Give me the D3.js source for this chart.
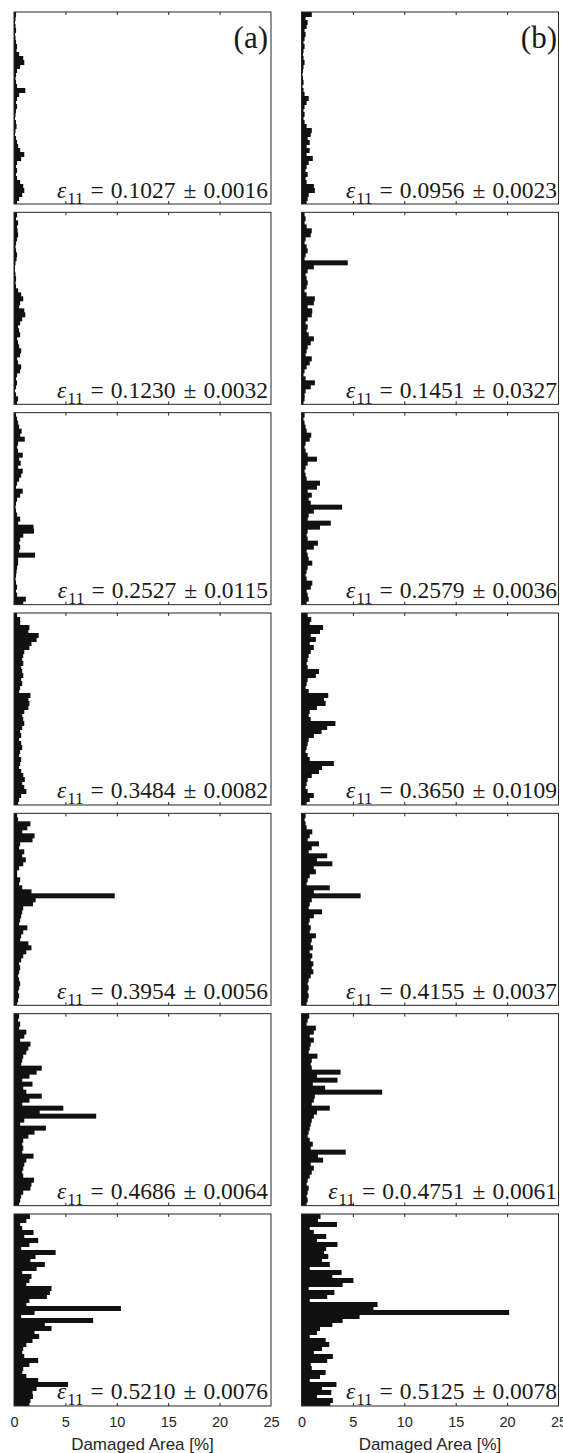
<!DOCTYPE html>
<html>
<head>
<meta charset="utf-8">
<script src="https://cdn.jsdelivr.net/npm/d3@7"></script>
<style>
  body { margin: 0; background: #fff; }
  svg { display: block; }
</style>
</head>
<body>
<div id="container"></div>
<script>
// x ticks (damaged area, %)
const ticks = [0, 5, 10, 15, 20, 25];

// damaged area per slice, top to bottom, column (a)
const a1 = [0.2,0.15,0.1,0.15,0.2,0.1,0.15,0.2,0.3,0.25,
  0.5,0.9,1.0,0.6,0.3,0.2,0.15,0.2,0.3,1.1,
  0.5,0.3,0.2,0.3,0.2,0.15,0.1,0.2,0.25,0.15,
  0.1,0.2,0.3,0.4,0.6,1.0,0.7,0.3,0.2,0.3,
  0.2,0.3,0.6,0.9,1.0,0.8,0.5,0.3];
const a2 = [0.3,0.2,0.4,0.3,0.35,0.4,0.3,0.2,0.15,0.2,
  0.3,0.25,0.15,0.1,0.1,0.15,0.2,0.15,0.2,0.4,
  0.7,0.9,0.6,0.5,1.0,1.1,0.8,0.6,0.4,0.5,
  0.6,0.3,0.4,0.5,0.7,0.6,0.3,0.4,0.7,0.6,
  0.3,0.2,0.3,0.2,0.1,0.2,0.4,0.3];
const a3 = [0.2,0.3,0.4,0.5,0.75,0.6,1.05,0.4,0.3,0.4,
  0.85,0.5,0.65,0.4,0.85,0.7,0.5,0.3,0.2,0.85,
  0.6,0.3,0.2,0.15,0.2,0.3,0.6,0.4,1.9,1.95,
  0.9,0.6,0.5,0.6,0.5,2.05,0.4,0.4,0.3,0.25,
  0.2,0.15,0.2,0.3,0.2,0.3,1.15,0.9];
const a4 = [0.3,0.6,0.6,1.5,1.4,2.4,2.2,1.7,1.5,1.0,
  0.9,0.8,0.9,0.7,0.8,0.9,0.7,0.8,0.6,0.5,
  1.6,1.4,1.5,1.4,1.0,0.8,0.9,1.0,0.8,0.6,
  0.7,0.5,0.7,0.8,0.6,0.5,0.7,0.6,0.5,0.7,
  0.9,1.05,0.8,1.0,1.2,0.7,0.5,0.4];
const a5 = [0.3,0.4,1.6,1.3,0.8,2.0,1.8,0.6,0.5,1.0,
  0.8,1.15,0.9,0.5,0.3,0.3,0.6,0.5,0.8,1.7,
  9.8,2.1,1.85,0.9,0.8,0.7,0.6,0.5,1.3,0.9,
  0.7,0.6,1.4,1.7,1.2,0.9,0.7,0.5,0.6,0.5,
  0.4,0.5,0.6,0.5,0.4,0.5,0.4,0.3];
const a6 = [0.5,0.4,0.6,0.5,1.2,1.0,0.6,1.6,1.4,1.2,
  0.9,0.8,0.7,2.7,2.2,1.5,0.8,1.8,0.9,1.2,
  2.7,1.5,0.8,4.8,2.5,8.0,1.0,0.6,3.1,2.0,
  1.4,0.9,0.8,0.9,0.8,1.9,1.2,1.0,0.9,0.8,
  0.9,1.95,1.7,1.6,0.9,0.7,0.6,0.5];
const a7 = [1.55,1.2,0.6,0.8,1.9,1.0,2.35,1.5,0.7,4.05,
  2.1,1.6,3.0,2.2,0.8,1.7,1.5,1.2,3.65,3.5,
  3.2,1.5,1.2,10.4,2.0,0.7,7.7,3.0,3.65,2.0,
  2.45,1.8,1.2,0.9,0.8,1.0,2.35,1.5,0.9,0.8,
  1.2,2.35,5.25,2.2,1.8,1.85,1.6,1.5];

// column (b)
const b1 = [1.0,0.4,0.6,0.5,0.3,0.4,0.3,0.2,0.3,0.2,
  0.15,0.2,0.3,0.2,0.15,0.1,0.15,0.2,0.1,0.2,
  0.3,0.7,0.5,0.3,0.2,0.3,0.2,0.3,0.5,1.0,
  0.9,0.6,0.8,0.5,0.8,0.5,1.1,0.7,0.5,0.4,
  0.6,0.4,0.5,1.2,1.3,0.7,0.6,0.5];
const b2 = [0.3,0.4,0.3,0.5,1.0,0.9,0.4,0.3,0.5,0.6,
  0.4,0.3,4.5,1.2,0.6,0.4,0.5,0.6,0.5,0.3,
  0.5,1.3,1.2,0.6,1.05,1.0,0.6,0.4,0.6,0.5,
  0.7,1.2,0.9,0.6,0.5,0.4,1.0,0.8,0.5,0.3,
  0.2,0.4,1.3,0.9,0.4,0.3,0.3,0.2];
const b3 = [0.3,0.2,0.3,0.4,0.5,0.95,0.8,0.4,0.3,0.4,
  0.6,1.5,0.6,0.4,0.3,0.4,0.5,1.8,1.5,0.6,
  1.0,0.7,0.9,3.95,1.2,0.7,0.6,2.85,1.8,0.6,
  0.5,0.6,1.6,1.2,0.5,0.6,0.7,1.05,0.6,0.5,
  0.4,0.5,1.05,0.9,0.5,0.6,0.7,0.5];
const b4 = [0.6,0.95,0.8,2.1,1.8,0.9,1.4,0.8,1.2,0.9,
  0.7,0.6,0.5,0.6,1.7,1.4,0.6,0.5,0.4,0.7,
  2.6,2.2,2.35,1.5,0.8,0.7,0.9,3.3,2.5,1.95,
  1.2,0.7,0.6,0.5,0.4,0.6,0.8,3.15,2.0,1.7,
  1.0,0.6,0.5,0.4,0.6,1.2,0.8,0.5];
const b5 = [0.4,0.3,0.4,0.5,1.05,0.8,0.6,1.7,1.0,0.7,
  2.5,1.5,3.0,1.2,1.4,0.8,0.6,0.5,2.75,1.2,
  5.75,1.0,0.8,0.7,2.0,1.2,0.8,0.7,0.9,0.8,
  1.4,1.0,0.9,1.1,0.8,1.05,0.9,1.15,1.0,1.15,
  0.9,0.7,0.6,0.7,0.6,0.7,0.6,0.5];
const b6 = [0.75,0.6,0.5,1.4,1.2,0.8,1.2,0.9,0.8,0.7,
  1.55,1.0,0.9,1.0,3.8,1.5,3.5,1.1,2.3,7.85,
  1.3,1.2,1.0,2.75,1.5,1.2,1.0,0.9,0.8,0.7,
  0.6,0.8,1.1,0.9,4.3,1.6,2.1,0.9,1.2,1.0,
  0.8,0.6,0.5,0.7,0.6,0.5,0.6,0.5];
const b7 = [1.85,1.6,3.45,0.8,1.2,2.4,1.5,3.5,2.4,2.2,
  2.6,2.0,2.75,0.8,3.9,3.0,5.05,4.0,0.7,3.2,
  2.5,0.8,7.4,7.0,20.2,5.65,4.0,3.0,1.8,1.5,
  0.8,2.35,2.7,2.0,1.2,3.05,2.5,0.9,1.0,2.35,
  1.8,0.8,3.4,2.0,2.9,1.5,3.05,2.8];

// strain annotations
const strainA = ["0.1027", "0.1230", "0.2527", "0.3484", "0.3954", "0.4686", "0.5210"];
const errA = ["0.0016", "0.0032", "0.0115", "0.0082", "0.0056", "0.0064", "0.0076"];
const strainB = ["0.0956", "0.1451", "0.2579", "0.3650", "0.4155", "0.0.4751", "0.5125"];
const errB = ["0.0023", "0.0327", "0.0036", "0.0109", "0.0037", "0.0061", "0.0078"];
const tags = ["(a)", "(b)"];
const xLabel = "Damaged Area [%]";

const columns = [
  { panels: [a1, a2, a3, a4, a5, a6, a7], strain: strainA, err: errA, tag: tags[0], left: 14, pad: 3 },
  { panels: [b1, b2, b3, b4, b5, b6, b7], strain: strainB, err: errB, tag: tags[1], left: 301.5, pad: 1.5 }
];

const panelW = 257, panelH = 192, top0 = 12, pitch = 200.33;
const axisColor = "#262626";

const svg = d3.select("#container")
  .append("svg")
  .attr("width", 563)
  .attr("height", 1453);

columns.forEach(col => {
  const x = d3.scaleLinear()
    .domain([0, 25])
    .range([col.left, col.left + panelW]);

  col.panels.forEach((vals, r) => {
    const y = d3.scaleBand()
      .domain(d3.range(vals.length))
      .range([0, panelH])
      .padding(0);

    const g = svg.append("g")
      .attr("transform", `translate(0,${top0 + r * pitch})`);

    // bars (slight overlap so neighbouring slices merge without seams)
    g.selectAll("rect.bar")
      .data(vals)
      .join("rect")
      .attr("class", "bar")
      .attr("x", x(0))
      .attr("y", (d, i) => y(i))
      .attr("width", d => x(d) - x(0))
      .attr("height", (d, i) => i === vals.length - 1 ? y.bandwidth() : y.bandwidth() + 1)
      .attr("fill", "#111");

    // box
    g.append("rect")
      .attr("x", col.left)
      .attr("y", 0)
      .attr("width", panelW)
      .attr("height", panelH)
      .attr("fill", "none")
      .attr("stroke", axisColor)
      .attr("stroke-width", 1);

    // inward ticks top and bottom
    const inner = ticks.slice(1, -1);
    g.append("g")
      .call(d3.axisTop(x).tickValues(inner).tickSize(-3).tickFormat(""))
      .call(s => s.select(".domain").remove())
      .selectAll("line").attr("stroke", axisColor);
    g.append("g")
      .attr("transform", `translate(0,${panelH})`)
      .call(d3.axisBottom(x).tickValues(inner).tickSize(-3).tickFormat(""))
      .call(s => s.select(".domain").remove())
      .selectAll("line").attr("stroke", axisColor);

    // strain annotation
    const t = g.append("text")
      .attr("x", col.left + panelW - col.pad)
      .attr("y", panelH - 6.5)
      .attr("text-anchor", "end")
      .style("font-family", "'Liberation Serif', serif")
      .style("font-size", "23.5px")
      .attr("fill", "#1a1a1a");
    t.append("tspan").style("font-style", "italic").text("ε");
    t.append("tspan").attr("dy", 6).attr("dx", 1).style("font-size", "17px").text("11");
    t.append("tspan").attr("dy", -6).attr("dx", 7).text("=");
    t.append("tspan").attr("dx", 7).text(col.strain[r]);
    t.append("tspan").attr("dx", 8).text("±");
    t.append("tspan").attr("dx", 7).text(col.err[r]);

    if (r === 0) {
      g.append("text")
        .attr("x", col.left + panelW - col.pad)
        .attr("y", 36)
        .attr("text-anchor", "end")
        .style("font-family", "'Liberation Serif', serif")
        .style("font-size", "31px")
        .attr("fill", "#1a1a1a")
        .text(col.tag);
    }

    if (r === col.panels.length - 1) {
      const ax = g.append("g")
        .attr("transform", `translate(0,${panelH})`)
        .call(d3.axisBottom(x).tickValues(ticks).tickSize(0).tickPadding(10.5));
      ax.select(".domain").remove();
      ax.selectAll("text")
        .style("font-family", "'Liberation Sans', Arial, sans-serif")
        .style("font-size", "14.5px")
        .attr("fill", axisColor);

      g.append("text")
        .attr("x", col.left + panelW / 2)
        .attr("y", panelH + 44)
        .attr("text-anchor", "middle")
        .style("font-family", "'Liberation Sans', Arial, sans-serif")
        .style("font-size", "17px")
        .attr("fill", axisColor)
        .text(xLabel);
    }
  });
});
</script>
</body>
</html>
